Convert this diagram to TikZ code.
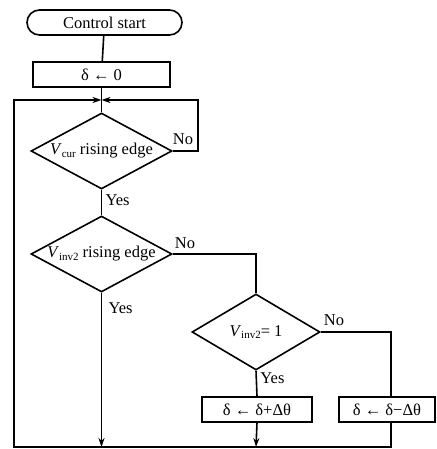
\documentclass[tikz,border=0pt]{standalone}
\usepackage{fontspec}
\setmainfont{Liberation Serif}
\usetikzlibrary{arrows.meta, shapes.geometric}

\newcommand{\lowidx}[1]{\raisebox{-0.35ex}{\fontsize{11}{12}\selectfont #1}}

\begin{document}
\begin{tikzpicture}[x=1pt, y=-1pt, line width=1.6pt,
    every node/.style={font=\fontsize{16.5}{19}\selectfont},
    box/.style={draw, rectangle, minimum height=25pt, inner sep=0pt},
    test/.style={draw, diamond, inner xsep=-10pt, inner ysep=0pt},
    arr/.style={-{Stealth[length=9pt, width=6pt]}}]
    \useasboundingbox (0,0) rectangle (436,449);
    % blocks
    \node[box, rounded corners=12.5pt, minimum width=155pt] (start) at (104.5,22.5) {Control start};
    \node[box, minimum width=137pt] (init) at (101.5,74.5) {δ ← 0};
    \node[test, aspect=1.85, minimum width=141pt, minimum height=76pt] (cur) at (101.5,151) {\textit{V}\lowidx{cur} rising edge};
    \node[test, aspect=1.85, minimum width=141pt, minimum height=76pt] (inv) at (101.5,254) {\textit{V}\lowidx{inv2} rising edge};
    \node[test, aspect=1.68, minimum width=128pt, minimum height=76pt] (one) at (256,332) {\textit{V}\lowidx{inv2}= 1};
    \node[box, minimum width=110pt] (plus) at (257,409.5) {δ ← δ+Δθ};
    \node[box, minimum width=96pt] (minus) at (387,409.5) {δ ← δ−Δθ};
    % helper points
    \coordinate (merge) at (101.5,100);
    \coordinate (low) at (101.5,447);
    \coordinate (lowplus) at (256,447);
    % main line
    \draw (start) -- (init);
    \draw (init) -- (cur.north);
    \draw (cur.south) -- (inv.north) node[pos=0.4, right] {Yes};
    \draw[arr] (inv.south) -- (low) node[pos=0.1, right, xshift=3pt] {Yes};
    % loop back from No of first test
    \draw[arr] (cur.east) -- (198,151) -- (198,100) -- (merge);
    \node at (183,139) {No};
    % No of second test
    \draw (inv.east) -- (256,254) -- (one.north);
    \node at (185,243) {No};
    % third test
    \draw (one.south) -- (plus.north) node[pos=0.3, right] {Yes};
    \draw (one.east) -- (391,332) -- (391,397);
    \node at (334,320) {No};
    \draw[arr] (plus.south) -- (lowplus);
    % return path
    \draw[arr] (391,422) -- (391,447) -- (14,447) -- (14,100) -- (merge);
\end{tikzpicture}
\end{document}
